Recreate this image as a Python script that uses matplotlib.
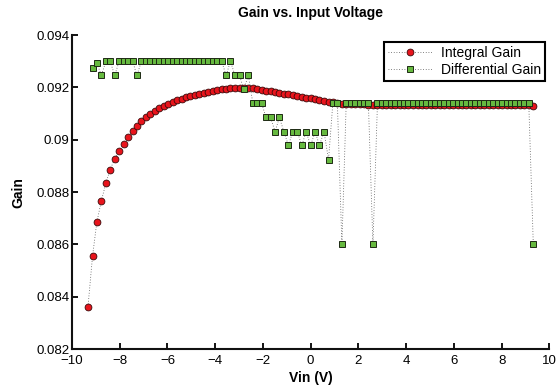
import numpy as np
import matplotlib
matplotlib.use("Agg")
import matplotlib.pyplot as plt

plt.rcParams['font.family'] = ['Liberation Sans', 'DejaVu Sans']

# input voltage samples (V)
vin = [-9.33, -9.14, -8.96, -8.77, -8.58, -8.40, -8.21, -8.02, -7.84, -7.65,
       -7.46, -7.28, -7.09, -6.90, -6.72, -6.53, -6.34, -6.16, -5.97, -5.78,
       -5.60, -5.41, -5.22, -5.04, -4.85, -4.66, -4.48, -4.29, -4.10, -3.92,
       -3.73, -3.54, -3.36, -3.17, -2.98, -2.80, -2.61, -2.42, -2.24, -2.05,
       -1.87, -1.68, -1.49, -1.31, -1.12, -0.93, -0.75, -0.56, -0.37, -0.19,
       0.00, 0.19, 0.37, 0.56, 0.75, 0.93, 1.12, 1.31, 1.49, 1.68,
       1.87, 2.05, 2.24, 2.42, 2.61, 2.80, 2.98, 3.17, 3.36, 3.54,
       3.73, 3.92, 4.10, 4.29, 4.48, 4.66, 4.85, 5.04, 5.22, 5.41,
       5.60, 5.78, 5.97, 6.16, 6.34, 6.53, 6.72, 6.90, 7.09, 7.28,
       7.46, 7.65, 7.84, 8.02, 8.21, 8.40, 8.58, 8.77, 8.96, 9.14,
       9.33]

integral_gain = [0.08361, 0.08554, 0.08684, 0.08766, 0.08834, 0.08886, 0.08927, 0.08958, 0.08985, 0.09011,
                 0.09033, 0.09053, 0.09070, 0.09085, 0.09098, 0.09110, 0.09120, 0.09129, 0.09137, 0.09145,
                 0.09152, 0.09157, 0.09162, 0.09167, 0.09171, 0.09175, 0.09179, 0.09183, 0.09186, 0.09189,
                 0.09192, 0.09195, 0.09197, 0.09198, 0.09198, 0.09198, 0.09197, 0.09196, 0.09194, 0.09191,
                 0.09188, 0.09185, 0.09182, 0.09179, 0.09176, 0.09173, 0.09170, 0.09167, 0.09164, 0.09161,
                 0.09158, 0.09155, 0.09152, 0.09149, 0.09146, 0.09143, 0.09140, 0.09138, 0.09137, 0.09136,
                 0.09136, 0.09135, 0.09135, 0.09134, 0.09134, 0.09134, 0.09134, 0.09134, 0.09134, 0.09134,
                 0.09134, 0.09134, 0.09134, 0.09134, 0.09134, 0.09134, 0.09134, 0.09134, 0.09134, 0.09134,
                 0.09134, 0.09134, 0.09134, 0.09134, 0.09133, 0.09133, 0.09133, 0.09133, 0.09133, 0.09133,
                 0.09133, 0.09133, 0.09133, 0.09133, 0.09133, 0.09133, 0.09133, 0.09133, 0.09133, 0.09133,
                 0.09130]

# differential gain starts at the second sample
diff_gain = [0.09273, 0.09294, 0.09246, 0.09300, 0.09300, 0.09246, 0.09300, 0.09300, 0.09300, 0.09300,
             0.09246, 0.09300, 0.09300, 0.09300, 0.09300, 0.09300, 0.09300, 0.09300, 0.09300, 0.09300,
             0.09300, 0.09300, 0.09300, 0.09300, 0.09300, 0.09300, 0.09300, 0.09300, 0.09300, 0.09300,
             0.09246, 0.09300, 0.09246, 0.09246, 0.09192, 0.09246, 0.09139, 0.09139, 0.09139, 0.09085,
             0.09085, 0.09031, 0.09085, 0.09031, 0.08978, 0.09031, 0.09031, 0.08978, 0.09031, 0.08978,
             0.09031, 0.08978, 0.09031, 0.08924, 0.09139, 0.09139, 0.08600, 0.09139, 0.09139, 0.09139,
             0.09139, 0.09139, 0.09139, 0.08600, 0.09139, 0.09139, 0.09139, 0.09139, 0.09139, 0.09139,
             0.09139, 0.09139, 0.09139, 0.09139, 0.09139, 0.09139, 0.09139, 0.09139, 0.09139, 0.09139,
             0.09139, 0.09139, 0.09139, 0.09139, 0.09139, 0.09139, 0.09139, 0.09139, 0.09139, 0.09139,
             0.09139, 0.09139, 0.09139, 0.09139, 0.09139, 0.09139, 0.09139, 0.09139, 0.09139, 0.08600]

xticks = [-10, -8, -6, -4, -2, 0, 2, 4, 6, 8, 10]
yticks = [0.082, 0.084, 0.086, 0.088, 0.09, 0.092, 0.094]
ytick_labels = ['0.082', '0.084', '0.086', '0.088', '0.09', '0.092', '0.094']

fig = plt.figure(figsize=(5.58, 3.87), dpi=100)
ax = fig.add_axes([0.129, 0.098, 0.8554, 0.8114])

dots = (0, (1, 2.2))
ax.plot(vin, integral_gain, linestyle=dots, color='0.35', linewidth=0.6,
        marker='o', markersize=4.9, markerfacecolor='#e8141c',
        markeredgecolor='#3a0a0a', markeredgewidth=0.6, label='Integral Gain')
ax.plot(vin[1:], diff_gain, linestyle=dots, color='0.35', linewidth=0.6,
        marker='s', markersize=4.3, markerfacecolor='#66b93f',
        markeredgecolor='#1e2a14', markeredgewidth=0.7, label='Differential Gain')

ax.set_xlim(-10, 10)
ax.set_ylim(0.082, 0.094)
ax.set_xticks(xticks)
ax.set_yticks(yticks)
ax.set_yticklabels(ytick_labels)

for s in ['top', 'right']:
    ax.spines[s].set_visible(False)
for s in ['left', 'bottom']:
    ax.spines[s].set_linewidth(1.5)
    ax.spines[s].set_color('#111111')
ax.tick_params(direction='in', length=4, width=1.3, labelsize=9.5)
ax.tick_params(axis='y', pad=2)
ax.tick_params(axis='x', pad=4)

ax.set_title('Gain vs. Input Voltage', fontsize=10, fontweight='bold', pad=13)
ax.set_xlabel('Vin (V)', fontsize=10, fontweight='bold', labelpad=3)
ax.set_ylabel('Gain', fontsize=10, fontweight='bold', labelpad=8)

leg = ax.legend(loc='upper right', bbox_to_anchor=(0.991, 0.979), borderaxespad=0,
                fancybox=False, framealpha=1, edgecolor='black', fontsize=10,
                handlelength=3.2, handletextpad=0.6, borderpad=0.3, labelspacing=0.25)
leg.get_frame().set_linewidth(1.5)

fig.savefig('out.png', dpi=100)
